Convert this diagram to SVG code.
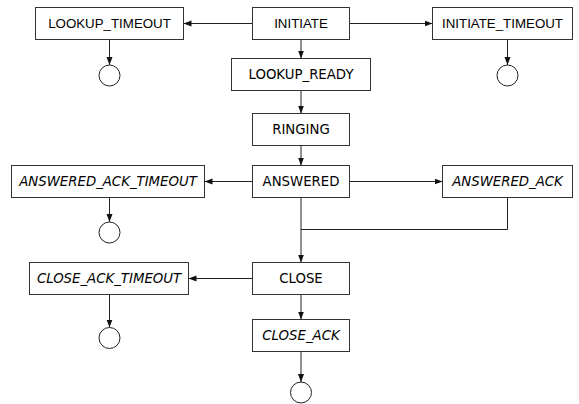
<svg xmlns="http://www.w3.org/2000/svg" width="579" height="404" viewBox="0 0 579 404">
  <style>
    .box { fill: #ffffff; stroke: #333333; stroke-width: 1; }
    .end { fill: #ffffff; stroke: #222222; stroke-width: 1; }
    .edge { fill: none; stroke: #222222; stroke-width: 1; }
    .arr { marker-end: url(#head); }
    text { font-size: 13.3px; fill: #000000; text-anchor: middle; }
    .sans { font-family: "Liberation Sans", Arial, sans-serif; }
    .dv { font-family: "DejaVu Sans", Verdana, sans-serif; }
    .it { font-family: "DejaVu Sans", Verdana, sans-serif; font-style: italic; }
  </style>
  <defs>
    <marker id="head" markerUnits="userSpaceOnUse" markerWidth="9" markerHeight="8" refX="8" refY="3" orient="auto">
      <path d="M0,0 L8,3 L0,6 z" fill="#111111"/>
    </marker>
  </defs>
  <rect width="579" height="404" fill="#ffffff"/>

  <g id="connectors">
    <path class="edge arr" d="M252.5,23.5 H183.5"/>
    <path class="edge arr" d="M349.5,23.5 H432.5"/>
    <path class="edge arr" d="M301,39.5 V58.5"/>
    <path class="edge arr" d="M109.5,39.5 V65"/>
    <path class="edge arr" d="M507.5,39.5 V65"/>
    <path class="edge arr" d="M301,90.5 V113.5"/>
    <path class="edge arr" d="M301,145.5 V165.5"/>
    <path class="edge arr" d="M252.5,181.5 H204.5"/>
    <path class="edge arr" d="M349.5,181.5 H442.5"/>
    <path class="edge arr" d="M109.5,197.5 V222"/>
    <path class="edge" d="M507.5,197.5 V229.5 H301"/>
    <path class="edge arr" d="M301,197.5 V262.5"/>
    <path class="edge arr" d="M252.5,278.5 H188.5"/>
    <path class="edge arr" d="M109.5,294.5 V327.5"/>
    <path class="edge arr" d="M301,294.5 V319.5"/>
    <path class="edge arr" d="M301,351.5 V382"/>
  </g>

  <g id="lookup_timeout">
    <rect class="box" x="35.5" y="7.5" width="148" height="32"/>
    <text class="sans" x="109.5" y="28">LOOKUP_TIMEOUT</text>
  </g>
  <g id="lookup_timeout_end"><circle class="end" cx="109.5" cy="75.5" r="10.5"/></g>

  <g id="initiate">
    <rect class="box" x="252.5" y="7.5" width="97" height="32"/>
    <text class="sans" x="301" y="28">INITIATE</text>
  </g>

  <g id="initiate_timeout">
    <rect class="box" x="432.5" y="7.5" width="140" height="32"/>
    <text class="sans" x="502.5" y="28">INITIATE_TIMEOUT</text>
  </g>
  <g id="initiate_timeout_end"><circle class="end" cx="507.5" cy="75.5" r="10.5"/></g>

  <g id="lookup_ready">
    <rect class="box" x="231.5" y="58.5" width="139" height="32"/>
    <text class="dv" x="301" y="79">LOOKUP_READY</text>
  </g>

  <g id="ringing">
    <rect class="box" x="252.5" y="113.5" width="97" height="32"/>
    <text class="dv" x="301" y="134">RINGING</text>
  </g>

  <g id="answered_ack_timeout">
    <rect class="box" x="11.5" y="165.5" width="193" height="32"/>
    <text class="it" x="108" y="186">ANSWERED_ACK_TIMEOUT</text>
  </g>
  <g id="answered_ack_timeout_end"><circle class="end" cx="109.5" cy="232.5" r="10.5"/></g>

  <g id="answered">
    <rect class="box" x="252.5" y="165.5" width="97" height="32"/>
    <text class="dv" x="301" y="186">ANSWERED</text>
  </g>

  <g id="answered_ack">
    <rect class="box" x="442.5" y="165.5" width="130" height="32"/>
    <text class="it" x="507.5" y="186">ANSWERED_ACK</text>
  </g>

  <g id="close_ack_timeout">
    <rect class="box" x="29.5" y="262.5" width="159" height="32"/>
    <text class="it" x="109" y="283">CLOSE_ACK_TIMEOUT</text>
  </g>
  <g id="close_ack_timeout_end"><circle class="end" cx="109.5" cy="338" r="10.5"/></g>

  <g id="close">
    <rect class="box" x="252.5" y="262.5" width="97" height="32"/>
    <text class="dv" x="301" y="283">CLOSE</text>
  </g>

  <g id="close_ack">
    <rect class="box" x="252.5" y="319.5" width="97" height="32"/>
    <text class="it" x="301" y="340">CLOSE_ACK</text>
  </g>
  <g id="close_ack_end"><circle class="end" cx="301" cy="392.5" r="10.5"/></g>
</svg>
